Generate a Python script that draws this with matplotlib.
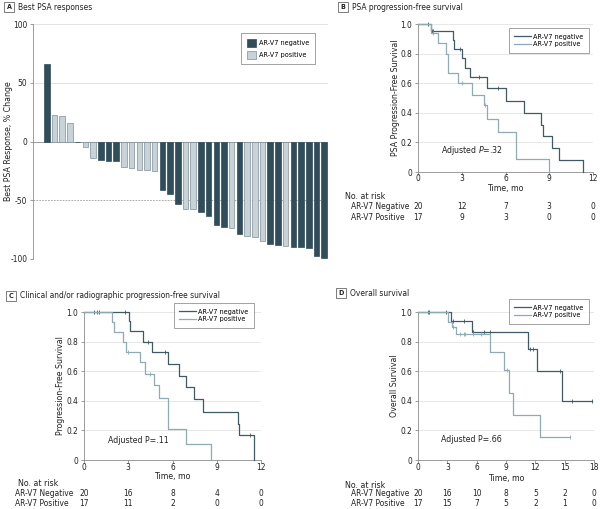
import numpy as np
import matplotlib
matplotlib.use("Agg")
import matplotlib.pyplot as plt
from matplotlib.patches import Patch
from matplotlib.lines import Line2D
from matplotlib.transforms import blended_transform_factory
from matplotlib.font_manager import fontManager, FontProperties
from matplotlib.textpath import TextPath

# ---------------- Data ----------------
# Panel A: waterfall of best PSA response (% change); group: 0 = AR-V7 negative, 1 = AR-V7 positive
psa_change = [66, 22.5, 22, 16, 0, -4.5, -14, -15.5, -16.5, -17, -22, -22.5, -24, -24, -25,
              -41, -45, -53, -57.5, -57.5, -60, -63, -71, -73, -74, -78.5, -80.5, -81, -84.5,
              -87.5, -88, -89, -89.5, -90, -91, -97.5, -99]
psa_group = [0, 1, 1, 1, 0, 1, 1, 0, 0, 0, 1, 1, 1, 1, 1,
             0, 0, 0, 1, 1, 0, 0, 0, 0, 1, 0, 1, 1, 1,
             0, 0, 1, 0, 0, 0, 0, 0]
group_names = ["AR-V7 negative", "AR-V7 positive"]

# Panel B: PSA progression-free survival
b_neg_t = [0, 0.87, 2.4, 2.5, 3.0, 3.25, 3.55, 4.7, 6.0, 7.3, 8.45, 8.6, 9.2, 9.7, 11.3]
b_neg_s = [1.0, 0.95, 0.89, 0.83, 0.77, 0.70, 0.64, 0.57, 0.48, 0.40, 0.32, 0.24, 0.16, 0.08, 0.0]
b_neg_cens = [0.7, 0.95, 1.05, 2.86, 4.15, 5.5]
b_pos_t = [0, 0.87, 1.37, 1.94, 2.06, 2.74, 3.7, 4.5, 4.75, 5.5, 6.7, 9.0]
b_pos_s = [1.0, 0.94, 0.87, 0.80, 0.67, 0.60, 0.52, 0.45, 0.36, 0.27, 0.09, 0.0]
b_pos_cens = [1.0, 3.0, 4.6]
b_risk_neg = [20, 12, 7, 3, 0]
b_risk_pos = [17, 9, 3, 0, 0]

# Panel C: clinical and/or radiographic progression-free survival
c_neg_t = [0, 3.06, 3.15, 4.0, 4.58, 5.7, 6.45, 6.9, 7.47, 8.04, 10.46, 10.53, 11.53]
c_neg_s = [1.0, 0.94, 0.875, 0.80, 0.73, 0.65, 0.566, 0.49, 0.41, 0.325, 0.24, 0.167, 0.0]
c_neg_cens = [0.7, 0.85, 1.05, 2.8, 4.35, 5.48, 11.26]
c_pos_t = [0, 1.93, 2.04, 2.65, 2.83, 3.78, 4.12, 4.73, 5.07, 5.7, 6.9, 8.58]
c_pos_s = [1.0, 0.93, 0.865, 0.80, 0.73, 0.66, 0.584, 0.505, 0.42, 0.212, 0.106, 0.0]
c_pos_cens = [2.99, 4.5]
c_risk_neg = [20, 16, 8, 4, 0]
c_risk_pos = [17, 11, 2, 0, 0]

# Panel D: overall survival
d_neg_t = [0, 3.4, 5.5, 11.3, 12.14, 14.7, 17.8]
d_neg_s = [1.0, 0.94, 0.862, 0.75, 0.60, 0.40, 0.40]
d_neg_cens = [1.0, 1.15, 2.9, 3.6, 4.7, 5.6, 6.7, 7.4, 11.45, 11.75, 14.5, 15.7, 17.75]
d_pos_t = [0, 3.03, 3.47, 3.9, 7.38, 8.8, 9.3, 9.7, 12.5, 15.5]
d_pos_s = [1.0, 0.93, 0.90, 0.85, 0.73, 0.61, 0.455, 0.306, 0.155, 0.155]
d_pos_cens = [3.6, 4.3, 4.66, 4.76, 5.6, 6.4, 9.08, 15.5]
d_risk_neg = [20, 16, 10, 8, 5, 2, 0]
d_risk_pos = [17, 15, 7, 5, 2, 1, 0]

# ---------------- Font choice (narrowest available) ----------------
fam, stretch = 'Liberation Sans', 'normal'
names = {f.name for f in fontManager.ttflist}
narrow = [f for f in fontManager.ttflist if f.style == 'normal' and
          ('Narrow' in f.name or 'Condensed' in f.name or
           f.stretch in ('condensed', 'semi-condensed', 'extra-condensed'))]
pref = None
for f in narrow:
    if f.name == 'Liberation Sans Narrow':
        pref = f
        break
if pref is None:
    for f in narrow:
        if f.stretch in ('condensed', 'semi-condensed') or 'Condensed' in f.name:
            pref = f
            break
if pref is not None:
    fam, stretch = pref.name, pref.stretch
elif 'Roboto' in names:
    fam = 'Roboto'
plt.rcParams['font.family'] = [fam, 'DejaVu Sans']
plt.rcParams['font.stretch'] = stretch
plt.rcParams['mathtext.fontset'] = 'custom'
plt.rcParams['mathtext.it'] = fam + ':italic'
plt.rcParams['mathtext.rm'] = fam
plt.rcParams['axes.unicode_minus'] = False

_w10 = TextPath((0, 0), 'AR-V7 Negative', size=10,
                prop=FontProperties(family=[fam], stretch=stretch)).get_extents().width
FS = 52.5 / (_w10 / 10 * 100 / 72)
FS = float(min(max(FS * 1.1, 5.2), 7.2))
LFS = FS * 0.87
plt.rcParams['font.size'] = FS

# ---------------- Style ----------------
W, H = 600, 509
NEG_BAR = '#2f4d5a'
POS_BAR = '#c8d3d9'
POS_EDGE = '#7f9099'
NEG_LINE = '#3f5a66'
POS_LINE = '#8eaab6'
GRID = '#e3e3e3'
SPINE = '#8c8c8c'
TXT = '#222222'

fig = plt.figure(figsize=(W / 100, H / 100), dpi=100)


def rect(x0, y0, x1, y1):
    return [x0 / W, 1 - y1 / H, (x1 - x0) / W, (y1 - y0) / H]


def ftext(x, y, s, **kw):
    kw.setdefault('color', TXT)
    fig.text(x / W, 1 - y / H, s, **kw)


def panel_title(x, y, letter, title):
    ftext(x, y, letter, fontsize=FS * 0.85, fontweight='bold', ha='center', va='center',
          bbox=dict(boxstyle='square,pad=0.3', fc='white', ec='#666666', lw=0.6))
    ftext(x + 9, y, title, fontsize=FS, ha='left', va='center')


def style_axes(ax):
    for s in ['top', 'right']:
        ax.spines[s].set_visible(False)
    for s in ['left', 'bottom']:
        ax.spines[s].set_color(SPINE)
        ax.spines[s].set_linewidth(0.6)
    ax.tick_params(colors=SPINE, labelcolor=TXT, width=0.6, length=2.5, labelsize=FS, pad=1.5)


def step_at(t, s, x):
    idx = np.searchsorted(np.asarray(t), np.asarray(x), side='right') - 1
    return np.asarray(s)[idx]


def km_panel(rect_px, neg_t, neg_s, neg_c, pos_t, pos_s, pos_c, xmax, xstep,
             ylabel, ptext, pitalic, ppos, risk_neg, risk_pos, legend_xy, ylabel_x,
             risk_label_x, risk_row_x, tick_y, xlabel_y, risk_y):
    ax = fig.add_axes(rect(*rect_px))
    style_axes(ax)
    ax.set_xlim(0, xmax)
    ax.set_ylim(0, 1.0)
    yt = [0, 0.2, 0.4, 0.6, 0.8, 1.0]
    ax.set_yticks(yt)
    ax.set_yticklabels(['0', '0.2', '0.4', '0.6', '0.8', '1.0'])
    xt = list(range(0, xmax + 1, xstep))
    ax.set_xticks(xt)
    ax.set_xticklabels([])
    for y in yt[1:]:
        ax.axhline(y, color=GRID, lw=0.6, zorder=0)
    ax.plot(neg_t, neg_s, drawstyle='steps-post', color=NEG_LINE, lw=0.9, clip_on=False, zorder=3)
    ax.plot(pos_t, pos_s, drawstyle='steps-post', color=POS_LINE, lw=0.9, clip_on=False, zorder=4)
    ax.plot(neg_c, step_at(neg_t, neg_s, neg_c), ls='none', marker='|', ms=3.5, mew=0.6,
            color=NEG_LINE, clip_on=False, zorder=3)
    ax.plot(pos_c, step_at(pos_t, pos_s, pos_c), ls='none', marker='|', ms=3.5, mew=0.6,
            color=POS_LINE, clip_on=False, zorder=4)
    ax.set_ylabel(ylabel, fontsize=FS * 1.05, color=TXT)
    ax.yaxis.set_label_coords((ylabel_x - rect_px[0]) / (rect_px[2] - rect_px[0]), 0.5)
    if pitalic:
        s = 'Adjusted $\\mathit{P}$=.' + ptext
    else:
        s = 'Adjusted P=.' + ptext
    ax.text(ppos[0], ppos[1], s, fontsize=FS * 1.05, color=TXT, ha='left', va='center')
    handles = [Line2D([], [], color=NEG_LINE, lw=0.9), Line2D([], [], color=POS_LINE, lw=0.9)]
    leg = ax.legend(handles, group_names, loc='upper left',
                    bbox_to_anchor=(legend_xy[0] / W, 1 - legend_xy[1] / H),
                    bbox_transform=fig.transFigure, fontsize=LFS, frameon=True,
                    fancybox=False, handlelength=2.3, handletextpad=0.3, borderpad=0.75,
                    labelspacing=0.25, borderaxespad=0)
    leg.get_frame().set_edgecolor('#777777')
    leg.get_frame().set_linewidth(0.6)
    tr = blended_transform_factory(ax.transData, fig.transFigure)
    for x in xt:
        ax.text(x, 1 - tick_y / H, str(x), transform=tr, ha='center', va='center',
                fontsize=FS, color=TXT)
    ax.text(xmax / 2, 1 - xlabel_y / H, 'Time, mo', transform=tr, ha='center', va='center',
            fontsize=FS * 1.05, color=TXT)
    ftext(risk_label_x, risk_y[0], 'No. at risk', fontsize=FS * 1.05, ha='left', va='center')
    ftext(risk_row_x, risk_y[1], 'AR-V7 Negative', fontsize=FS, ha='left', va='center')
    ftext(risk_row_x, risk_y[2], 'AR-V7 Positive', fontsize=FS, ha='left', va='center')
    for x, n in zip(xt, risk_neg):
        ax.text(x, 1 - risk_y[1] / H, str(n), transform=tr, ha='center', va='center',
                fontsize=FS, color=TXT)
    for x, n in zip(xt, risk_pos):
        ax.text(x, 1 - risk_y[2] / H, str(n), transform=tr, ha='center', va='center',
                fontsize=FS, color=TXT)
    return ax


# ---------------- Panel A ----------------
panel_title(9, 7, 'A', 'Best PSA responses')
axA = fig.add_axes(rect(33, 24, 328, 259))
for s in ['top', 'right', 'bottom']:
    axA.spines[s].set_visible(False)
axA.spines['left'].set_color(SPINE)
axA.spines['left'].set_linewidth(0.6)
axA.tick_params(axis='y', colors=SPINE, labelcolor=TXT, width=0.6, length=2.5, labelsize=FS, pad=1.5)
axA.set_xticks([])
axA.set_ylim(-100, 100)
axA.set_yticks([100, 50, 0, -50, -100])
x = np.arange(len(psa_change))
axA.set_xlim(-1.8, len(psa_change) - 0.5)
for y in [100, 50, -100]:
    axA.axhline(y, color=GRID, lw=0.7, zorder=0)
axA.axhline(-50, color='#9a9a9a', lw=0.6, ls=(0, (2, 1.5)), zorder=0)
colors = [NEG_BAR if g == 0 else POS_BAR for g in psa_group]
edges = [NEG_BAR if g == 0 else POS_EDGE for g in psa_group]
axA.bar(x, psa_change, width=0.72, color=colors, edgecolor=edges, linewidth=0.5, zorder=2)
axA.axhline(0, color='#8c8c8c', lw=0.6, zorder=1)
axA.set_ylabel('Best PSA Response, % Change', fontsize=FS * 1.05, color=TXT)
axA.yaxis.set_label_coords(-(33 - 13) / (328 - 33), 0.5)
legA = axA.legend([Patch(fc=NEG_BAR, ec=NEG_BAR, lw=0.5), Patch(fc=POS_BAR, ec=POS_EDGE, lw=0.5)],
                  group_names, loc='upper left', bbox_to_anchor=(241 / W, 1 - 33 / H),
                  bbox_transform=fig.transFigure, fontsize=LFS, frameon=True,
                  fancybox=False, handlelength=1.2, handleheight=1.3, handletextpad=0.45,
                  borderpad=0.8, labelspacing=0.55, borderaxespad=0)
legA.get_frame().set_edgecolor('#777777')
legA.get_frame().set_linewidth(0.6)

# ---------------- Panel B ----------------
panel_title(343, 7, 'B', 'PSA progression-free survival')
km_panel((418, 24, 593, 172), b_neg_t, b_neg_s, b_neg_cens, b_pos_t, b_pos_s, b_pos_cens,
         12, 3, 'PSA Progression-Free Survival', '32', True, (1.6, 0.144), b_risk_neg, b_risk_pos,
         (509, 28), 400, 345, 351, 179, 189, (197, 207, 217))

# ---------------- Panel C ----------------
panel_title(11, 296, 'C', 'Clinical and/or radiographic progression-free survival')
km_panel((84, 312, 261, 460), c_neg_t, c_neg_s, c_neg_cens, c_pos_t, c_pos_s, c_pos_cens,
         12, 3, 'Progression-Free Survival', '11', False, (1.6, 0.133), c_risk_neg, c_risk_pos,
         (174, 303), 65, 18, 15, 468, 477, (484, 494, 504))

# ---------------- Panel D ----------------
panel_title(341, 293, 'D', 'Overall survival')
km_panel((418, 312, 594, 460), d_neg_t, d_neg_s, d_neg_cens, d_pos_t, d_pos_s, d_pos_cens,
         18, 3, 'Overall Survival', '66', False, (2.4, 0.14), d_risk_neg, d_risk_pos,
         (509, 299), 399, 345, 351, 468, 478, (485, 494, 504))

fig.savefig('out.png', dpi=100, facecolor='white')
